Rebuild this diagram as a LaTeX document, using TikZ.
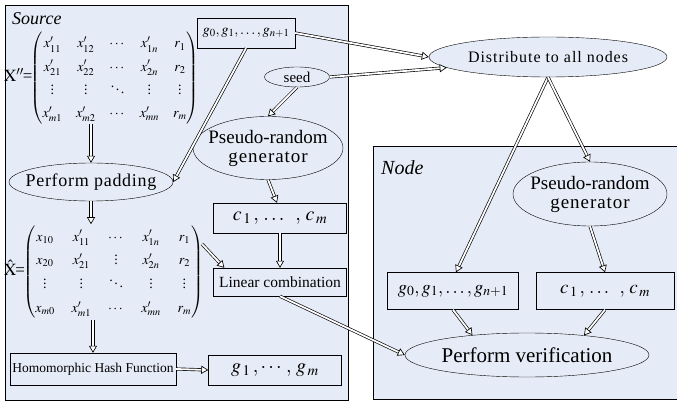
\documentclass[tikz,border=0pt]{standalone}
\usepackage{amsmath}
\usepackage{amssymb}
\usepackage{mathptmx}
\usepackage[no-math]{fontspec}
\setmainfont{Liberation Serif}
\usetikzlibrary{shapes.geometric,arrows.meta}
\definecolor{panelblue}{RGB}{230,236,247}
\newcommand{\fsz}[1]{\fontsize{#1}{#1}\selectfont}
\newcommand{\spaced}[1]{\addfontfeature{LetterSpace=#1}}

\begin{document}
\begin{tikzpicture}[x=1pt, y=-1pt, block/.style={rectangle, draw, fill=panelblue, inner sep=2pt}, oval/.style={ellipse, draw, fill=panelblue, inner sep=0pt}, dbl/.style={double, double distance=1.8pt, line width=0.65pt, -{Triangle[open, length=7pt, width=8pt, fill=white]}}]
    \useasboundingbox (0,0) rectangle (677,403);
    % the two panels
    \draw[fill=panelblue, line width=0.6pt] (5,5) rectangle (348,400);
    \fill[panelblue] (373,146) rectangle (677,399);
    \draw[line width=0.6pt] (677,146) -- (373,146) -- (373,399) -- (677,399);
    \node[anchor=north west, inner sep=0pt, font=\itshape\fsz{18}] (srclabel) at (12,12) {Source};
    \node[anchor=north west, inner sep=0pt, font=\itshape\fsz{20}] (nodelabel) at (381,160) {Node};

    % source side
    \node[anchor=west, inner sep=0pt, font=\fsz{14}] (xpp) at (4,78) {{\fsz{17}$\mathrm{X}''$\kern-1pt=}\kern-2pt$\renewcommand{\arraystretch}{1.65}\setlength{\arraycolsep}{7pt}\begin{pmatrix} x'_{11} & x'_{12} & \cdots & x'_{1n} & r_1\\ x'_{21} & x'_{22} & \cdots & x'_{2n} & r_2\\ \vdots & \vdots & \ddots & \vdots & \vdots\\ x'_{m1} & x'_{m2} & \cdots & x'_{mn} & r_m \end{pmatrix}$};
    \node[oval, minimum width=164pt, minimum height=38pt, inner xsep=-12pt, font=\fsz{18}\spaced{4}] (padding) at (91,182) {Perform padding};
    \node[anchor=west, inner sep=0pt, font=\fsz{14}] (xhat) at (4,272) {{\fsz{17}$\hat{\mathrm{X}}$\kern-1pt=}\kern-2pt$\renewcommand{\arraystretch}{1.7}\setlength{\arraycolsep}{8.5pt}\begin{pmatrix} x_{10} & x'_{11} & \cdots & x'_{1n} & r_1\\ x_{20} & x'_{21} & \vdots & x'_{2n} & r_2\\ \vdots & \vdots & \ddots & \vdots & \vdots\\ x_{m0} & x'_{m1} & \cdots & x'_{mn} & r_m \end{pmatrix}$};
    \coordinate (r1tail) at (202,244);
    \node[block, minimum width=166pt, minimum height=32pt, font=\fsz{13.5}] (hhf) at (93,369) {Homomorphic Hash Function};
    \node[block, minimum width=133pt, minimum height=30pt, font=\fsz{20}] (gm) at (275,370) {$g_{\,1}\,,\cdots\,,\,g_{\,m}$};
    \node[block, minimum width=98pt, minimum height=30pt, font=\fsz{14.5}] (gall) at (246,33) {$g_0, g_1, \ldots, g_{n+1}$};
    \node[oval, minimum width=65pt, minimum height=20pt, font=\fsz{15}] (seed) at (297,77) {seed};
    \node[oval, minimum width=150pt, minimum height=63pt, inner xsep=-9pt, inner ysep=-8pt, align=center, font=\fsz{19}] (prg1) at (268,148) {Pseudo-random\\{\spaced{5}generator}};
    \node[block, minimum width=133pt, minimum height=30pt, font=\fsz{20}] (csrc) at (280,218) {$c_{\,1}\,,\,\ldots\;\;,\,c_{\,m}$};
    \node[block, minimum width=133pt, minimum height=28pt, font=\fsz{15.5}] (lincomb) at (280,282) {Linear combination};

    % node side
    \node[oval, minimum width=238pt, minimum height=40pt, font=\fsz{16}\spaced{6}] (dist) at (548,57) {Distribute to all nodes};
    \node[oval, minimum width=154pt, minimum height=64pt, inner xsep=-9pt, inner ysep=-8pt, align=center, font=\fsz{19}] (prg2) at (590,194) {Pseudo-random\\{\spaced{5}generator}};
    \node[block, minimum width=131pt, minimum height=37pt, font=\fsz{18.5}] (gnode) at (453,291) {$g_0, g_1, \ldots, g_{n+1}$};
    \node[block, minimum width=138pt, minimum height=37pt, font=\fsz{19}] (cnode) at (605,291) {$c_{\,1}\,,\,\ldots\;\;,\,c_{\,m}$};
    \node[oval, minimum width=244pt, minimum height=44pt, font=\fsz{21}] (verify) at (527,355) {Perform verification};

    % connectors
    \draw[dbl] (xpp.south -| padding.north) -- (padding.north);
    \draw[dbl] (padding.south) -- (xhat.north -| padding.south);
    \draw[dbl] (xhat.south -| hhf.north) -- (hhf.north);
    \draw[dbl] (hhf.east) -- (gm.west);
    \draw[dbl] (gall.south) -- (padding.east);
    \draw[dbl] (gall.east) -- (dist.west);
    \draw[dbl] (seed.east) -- (dist.186);
    \draw[dbl] (seed.south) -- (prg1.north);
    \draw[dbl] (prg1.south) -- ([xshift=-3pt]csrc.north);
    \draw[dbl] (csrc.south) -- (lincomb.north);
    \draw[dbl] (r1tail) -- ([xshift=11pt]lincomb.north west);
    \draw[dbl] (lincomb.south) -- (verify.west);
    \draw[dbl] (dist.south) -- ([xshift=3pt]gnode.north);
    \draw[dbl] (dist.south) -- (prg2.north);
    \draw[dbl] (prg2.south) -- (cnode.north);
    \draw[dbl] (gnode.south) -- (verify.160);
    \draw[dbl] (cnode.south) -- (verify.19);
  \end{tikzpicture}
\end{document}
